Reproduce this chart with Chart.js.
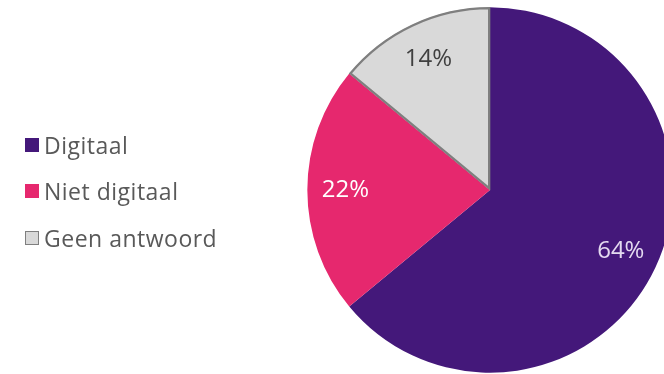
<!DOCTYPE html>
<html>
<head>
<meta charset="utf-8">
<script src="https://cdn.jsdelivr.net/npm/chart.js@4"></script>
<style>
    html, body {
        margin: 0;
        padding: 0;
        width: 664px;
        height: 374px;
        overflow: hidden;
        background: #ffffff;
    }
    #pieChart {
        position: absolute;
        left: 0;
        top: 0;
    }
    #legend {
        position: absolute;
        left: 0;
        top: 0;
        font-family: "Open Sans", sans-serif;
        font-size: 23px;
        letter-spacing: 0.5px;
        color: #595959;
    }
    .item {
        position: absolute;
        left: 25px;
        height: 30px;
        display: flex;
        align-items: center;
        white-space: nowrap;
    }
    .box {
        width: 14px;
        height: 14px;
        margin-right: 5px;
        box-sizing: border-box;
    }
</style>
</head>
<body>
<canvas id="pieChart" width="690" height="374"></canvas>
<div id="legend"></div>
<script>
// 資料
const categories = ['Digitaal', 'Niet digitaal', 'Geen antwoord'];
const shares = [64, 22, 14];

const sliceColors = ['#44187a', '#e6286e', '#d9d9d9'];
const borderColors = ['#44187a', '#e6286e', '#7f7f7f'];
const labelColors = ['#e4daf0', '#ffffff', '#404040'];

// 百分比標籤畫在扇形內
const sliceLabels = {
    id: 'sliceLabels',
    afterDatasetsDraw(chart) {
        const ctx = chart.ctx;
        const meta = chart.getDatasetMeta(0);
        ctx.save();
        ctx.font = '24px "Open Sans", sans-serif';
        ctx.textAlign = 'center';
        ctx.textBaseline = 'middle';
        meta.data.forEach((arc, i) => {
            const p = arc.getProps(['x', 'y', 'startAngle', 'endAngle', 'outerRadius'], true);
            const mid = (p.startAngle + p.endAngle) / 2;
            const r = p.outerRadius * 0.79;
            ctx.fillStyle = labelColors[i];
            ctx.fillText(shares[i] + '%', p.x + Math.cos(mid) * r, p.y + Math.sin(mid) * r);
        });
        ctx.restore();
    }
};

// 左側圖例（每列的垂直中心）
function buildLegend() {
    const legend = document.getElementById('legend');
    const rowCenters = [145, 191, 238];
    categories.forEach((name, i) => {
        const item = document.createElement('div');
        item.classList.add('item');
        item.style.top = (rowCenters[i] - 15) + 'px';
        item.innerHTML = `<span class="box" style="background:${sliceColors[i]};border:1.5px solid ${borderColors[i]}"></span>${name}`;
        legend.appendChild(item);
    });
}

new Chart(document.getElementById('pieChart'), {
    type: 'pie',
    data: {
        labels: categories,
        datasets: [{
            data: shares,
            backgroundColor: sliceColors,
            borderColor: ['#44187a', '#7f7f7f', '#7f7f7f'],
            borderWidth: [0, 0, 2],
            borderAlign: 'inner'
        }]
    },
    options: {
        responsive: false,
        animation: false,
        layout: {
            padding: { left: 307, right: 17, top: 7, bottom: 1 }
        },
        plugins: {
            legend: { display: false },
            tooltip: { enabled: false }
        }
    },
    plugins: [sliceLabels]
});

buildLegend();
</script>
</body>
</html>
